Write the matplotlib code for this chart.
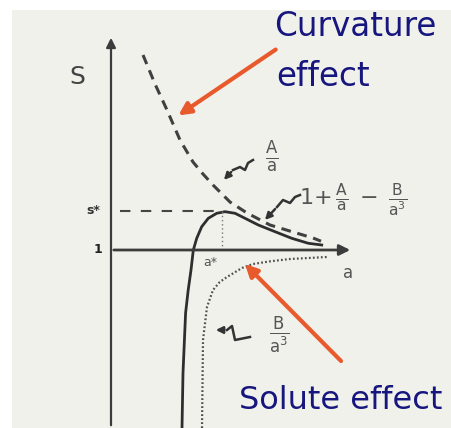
import numpy as np
import matplotlib
matplotlib.use("Agg")
import matplotlib.pyplot as plt
from matplotlib.patches import Rectangle

# curves (a = droplet radius, S = saturation ratio)
a_curv = [0.80, 1.10, 1.40, 1.725, 2.05, 2.30, 2.55, 2.975, 3.40, 3.975, 4.55, 5.05, 5.25]
s_curv = [5.875, 5.15, 4.50, 3.75, 3.20, 2.90, 2.625, 2.20, 1.925, 1.625, 1.45, 1.30, 1.22]

a_kohler = [1.775, 1.80, 1.865, 1.93, 2.00, 2.058, 2.143, 2.268, 2.433, 2.643, 2.85,
            3.10, 3.35, 3.683, 4.10, 4.518, 4.933, 5.268]
s_kohler = [-3.45, -2.075, -0.575, 0.0, 0.50, 1.0, 1.293, 1.583, 1.793, 1.918, 1.958,
            1.918, 1.793, 1.625, 1.458, 1.293, 1.168, 1.125]

a_solute = [2.275, 2.30, 2.40, 2.55, 2.72, 2.90, 3.275, 3.55, 4.00, 4.475, 5.40]
s_solute = [-3.45, -1.25, -0.425, 0.0, 0.20, 0.325, 0.55, 0.65, 0.72, 0.775, 0.825]

a_star = 2.775
s_star = 1.975

ink = "#3c3c3c"
navy = "#16167e"
red = "#e85a2c"

fig = plt.figure(figsize=(4.51, 4.28), dpi=100)
fig.patch.set_facecolor("white")
ax = fig.add_axes([0, 0, 1, 1])
ax.set_xlim(-2.775, 8.5)
ax.set_ylim(-3.45, 7.25)
ax.axis("off")

# paper background
ax.add_patch(Rectangle((12 / 451, 0), 1, 1 - 10 / 428, transform=ax.transAxes,
                       facecolor="#f1f1ec", edgecolor="none", zorder=0))

# axes arrows
ax.annotate("", xy=(0, 6.375), xytext=(0, -3.45),
            arrowprops=dict(arrowstyle="-|>", color=ink, lw=1.6, mutation_scale=14))
ax.annotate("", xy=(6.05, 1), xytext=(0, 1),
            arrowprops=dict(arrowstyle="-|>", color=ink, lw=2.0, mutation_scale=16))

# curves
ax.plot(a_curv, s_curv, color="#404040", lw=2.2, ls=(0, (3.2, 2.2)))
ax.plot(a_kohler, s_kohler, color="#2e2e2e", lw=2.0)
ax.plot(a_solute, s_solute, color="#505050", lw=1.6, ls=(0, (0.8, 1.0)))

# s* and a*
ax.plot([0.225, a_star], [s_star, s_star], color="#454545", lw=1.5, ls=(0, (5, 5)))
ax.plot([a_star, a_star], [1.0, s_star], color="#777777", lw=1.0, ls=(0, (1, 2)))

# labels on the sketch
ax.text(-0.85, 5.325, "S", fontsize=18, color="#444444", ha="center", va="center")
ax.text(-0.45, 1.975, "s*", fontsize=9, color="#333333", ha="center", va="center", fontweight="bold")
ax.text(-0.33, 1.0, "1", fontsize=9, color="#222222", ha="center", va="center", fontweight="bold")
ax.text(2.475, 0.675, "a*", fontsize=9, color="#555555", ha="center", va="center")
ax.text(5.925, 0.425, "a", fontsize=12, color="#555555", ha="center", va="center")

ax.text(4.025, 3.325, r"$\frac{\mathrm{A}}{\mathrm{a}}$", fontsize=17, color="#555555",
        ha="center", va="center")
ax.text(6.05, 2.25, r"$\mathrm{1{+}}\,\frac{\mathrm{A}}{\mathrm{a}}\;-\;\frac{\mathrm{B}}{\mathrm{a}^3}$",
        fontsize=16, color="#555555", ha="center", va="center")
ax.text(4.2, -1.125, r"$\frac{\mathrm{B}}{\mathrm{a}^3}$", fontsize=17, color="#555555",
        ha="center", va="center")

# squiggly pointers
squiggles = [
    ([3.55, 3.425, 3.35, 3.225, 3.05, 2.775], [3.25, 3.175, 3.0, 3.075, 3.0, 2.70]),
    ([4.725, 4.6, 4.475, 4.3, 4.15, 3.8], [2.375, 2.325, 2.175, 2.25, 2.075, 1.70]),
    ([3.475, 3.1, 3.025, 2.9, 2.55], [-1.175, -1.25, -0.9, -1.0, -1.0]),
]
for xs, ys in squiggles:
    ax.plot(xs[:-1], ys[:-1], color="#333333", lw=1.8)
    ax.annotate("", xy=(xs[-1], ys[-1]), xytext=(xs[-2], ys[-2]),
                arrowprops=dict(arrowstyle="-|>", color="#333333", lw=1.8, mutation_scale=10))

# red call-outs
ax.annotate("", xy=(1.625, 4.325), xytext=(4.175, 6.05),
            arrowprops=dict(arrowstyle="-|>", color=red, lw=3.0, mutation_scale=18))
ax.annotate("", xy=(3.3, 0.70), xytext=(5.8, -1.825),
            arrowprops=dict(arrowstyle="-|>", color=red, lw=3.0, mutation_scale=18))

ax.text(4.07, 6.35, "Curvature", fontsize=23.5, color=navy, ha="left", va="baseline")
ax.text(4.12, 5.1, "effect", fontsize=23.5, color=navy, ha="left", va="baseline")
ax.text(3.2, -2.97, "Solute effect", fontsize=23, color=navy, ha="left", va="baseline")

fig.savefig("out.png", dpi=100)
